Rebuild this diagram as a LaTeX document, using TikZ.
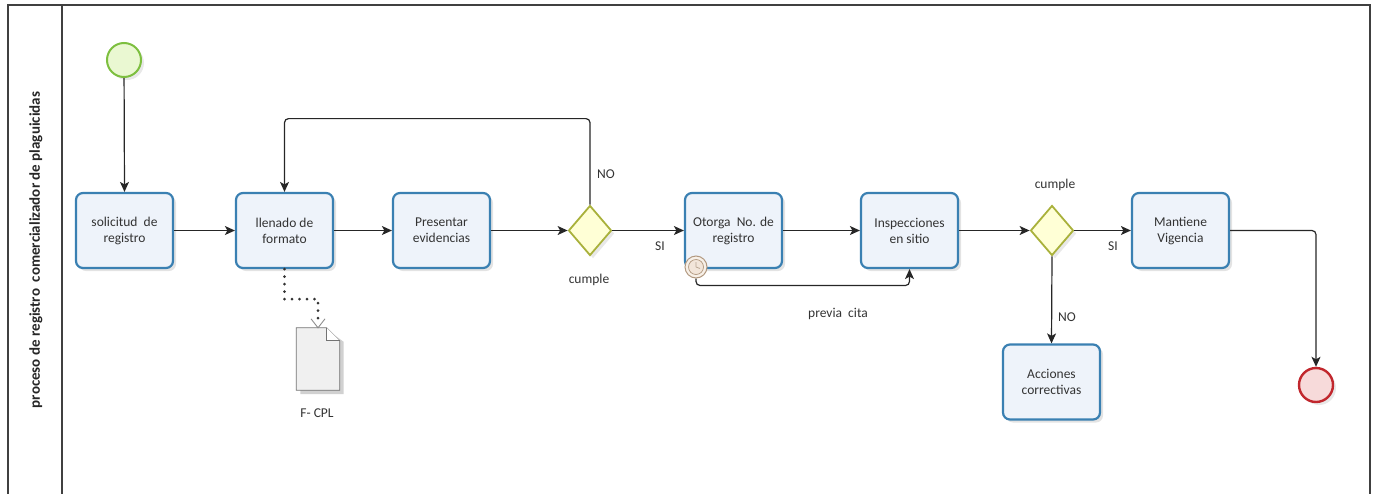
\documentclass[tikz,border=0pt]{standalone}
\usepackage{fontspec}
\setmainfont{Carlito}
\usetikzlibrary{shapes.geometric,arrows.meta,shadows,calc}
\definecolor{taskborder}{HTML}{3A80B2}
\definecolor{taskfill}{HTML}{EEF3FA}
\definecolor{gwborder}{HTML}{A9B13B}
\definecolor{gwfill}{HTML}{FFFFD6}
\definecolor{startborder}{HTML}{7DBF3F}
\definecolor{startfill}{HTML}{EAF8D2}
\definecolor{endborder}{HTML}{C1272D}
\definecolor{endfill}{HTML}{F7DADA}
\definecolor{txt}{HTML}{333333}
\definecolor{linec}{HTML}{262626}
\begin{document}
\begin{tikzpicture}[x=1pt,y=-1pt,
  font=\fontsize{13.5}{16}\selectfont, text=txt,
  task/.style={draw=taskborder, line width=2.2pt, fill=taskfill, rounded corners=7pt,
    minimum width=97pt, minimum height=75pt, align=center, inner sep=2pt,
    drop shadow={opacity=0.22, shadow xshift=3pt, shadow yshift=-3pt}},
  gateway/.style={diamond, draw=gwborder, line width=1.8pt, fill=gwfill,
    minimum width=43pt, minimum height=50pt, inner sep=0pt,
    drop shadow={opacity=0.18, shadow xshift=3pt, shadow yshift=-3pt}},
  startev/.style={circle, draw=startborder, line width=2pt, fill=startfill,
    minimum size=34pt, inner sep=0pt,
    drop shadow={opacity=0.18, shadow xshift=3pt, shadow yshift=-3pt}},
  endev/.style={circle, draw=endborder, line width=2.4pt, fill=endfill,
    minimum size=34pt, inner sep=0pt,
    drop shadow={opacity=0.18, shadow xshift=3pt, shadow yshift=-3pt}},
  flow/.style={draw=linec, line width=1.2pt, rounded corners=4pt,
    -{Stealth[length=10pt,width=9pt,inset=2.5pt]}},
  lbl/.style={inner sep=1pt, text=txt}
]
\useasboundingbox (0,0) rectangle (1379,493);
% pool frame
\draw[line width=1.6pt, draw=black!75] (8,505) -- (8,5) -- (1370,5) -- (1370,505);
\draw[line width=1.4pt, draw=black!75] (62,5) -- (62,505);
\node[rotate=90, font=\fontsize{15}{17}\selectfont\bfseries, text=black!85] (lane) at (36,250)
  {proceso de registro\ \ comercializador de plaguicidas};

% events and tasks
\node[startev] (start) at (124,60) {};
\node[task] (t1) at (124.5,230.5) {solicitud\ \ de\\registro};
\node[task] (t2) at (284.5,230.5) {llenado de\\formato};
\node[task] (t3) at (441.5,230.5) {Presentar\\evidencias};
\node[gateway] (g1) at (590,230.5) {};
\node[task] (t4) at (733.5,230.5) {Otorga\ \ No. de\\registro};
\node[task] (t5) at (909.5,230.5) {Inspecciones\\en sitio};
\node[gateway] (g2) at (1052,230.5) {};
\node[task] (t6) at (1180.5,230.5) {Mantiene\\Vigencia};
\node[task] (t7) at (1051.5,382) {Acciones\\correctivas};
\node[endev] (end) at (1316,385) {};

% timer boundary event
\node[circle, draw=black!35!brown!60, line width=1pt, fill=brown!12, minimum size=22pt, inner sep=0pt] (timer) at (696,267) {};
\draw[draw=black!35!brown!60, line width=0.7pt, fill=white!80!brown] (timer.center) circle (7.5pt);
\draw[draw=black!40!brown!50, line width=0.8pt] (timer.center) -- ++(0,-5) (timer.center) -- ++(4,1.5);

% data object
\node[minimum width=43pt, minimum height=62pt, inner sep=0pt] (doc) at (318,359) {};
\fill[black!18] ($(doc.north west)+(4,4)$) -- ($(doc.north east)+(-10,4)$) -- ($(doc.north east)+(4,14)$) -- ($(doc.south east)+(4,4)$) -- ($(doc.south west)+(4,4)$) -- cycle;
\draw[draw=black!55, line width=0.8pt, fill=black!6] (doc.north west) -- ($(doc.north east)+(-13,0)$) -- ($(doc.north east)+(0,13)$) -- (doc.south east) -- (doc.south west) -- cycle;
\draw[draw=black!55, line width=0.8pt, fill=white] ($(doc.north east)+(-13,0)$) -- ($(doc.north east)+(-13,13)$) -- ($(doc.north east)+(0,13)$);
\node[lbl] (doclbl) at (317,413) {F- CPL};

% sequence flows
\draw[flow] (start) -- (t1.north);
\draw[flow] (t1) -- (t2);
\draw[flow] (t2) -- (t3);
\draw[flow] (t3) -- (g1.west);
\draw[flow] (g1.north) -- ++(0,-86) -| (t2.north);
\draw[flow] (g1.east) -- (t4.west);
\draw[flow] (t4) -- (t5);
\draw[flow] (timer.south) -- ++(0,7) -| (t5.south);
\draw[flow] (t5.east) -- (g2.west);
\draw[flow] (g2.east) -- (t6.west);
\draw[flow] (g2.south) -- (t7.north);
\draw[flow] (t6.east) -| (end.north);

% association
\draw[draw=black!80, line width=3pt, line cap=round, dash pattern=on 0pt off 7.5pt]
  (t2.south) -- ++(0,30) -| ($(doc.north)+(0,-3)$);
\draw[draw=black!45, line width=0.9pt] ($(doc.north)+(-7,-9)$) -- (doc.north) -- ($(doc.north)+(7,-9)$);

% labels
\node[lbl] (l1) at (606,174) {NO};
\node[lbl] (l2) at (589,280) {cumple};
\node[lbl] (l3) at (660,246) {SI};
\node[lbl] (l4) at (838,314) {previa\ \ cita};
\node[lbl] (l5) at (1055,185) {cumple};
\node[lbl] (l6) at (1113,246) {SI};
\node[lbl] (l7) at (1067,317) {NO};
\end{tikzpicture}
\end{document}
